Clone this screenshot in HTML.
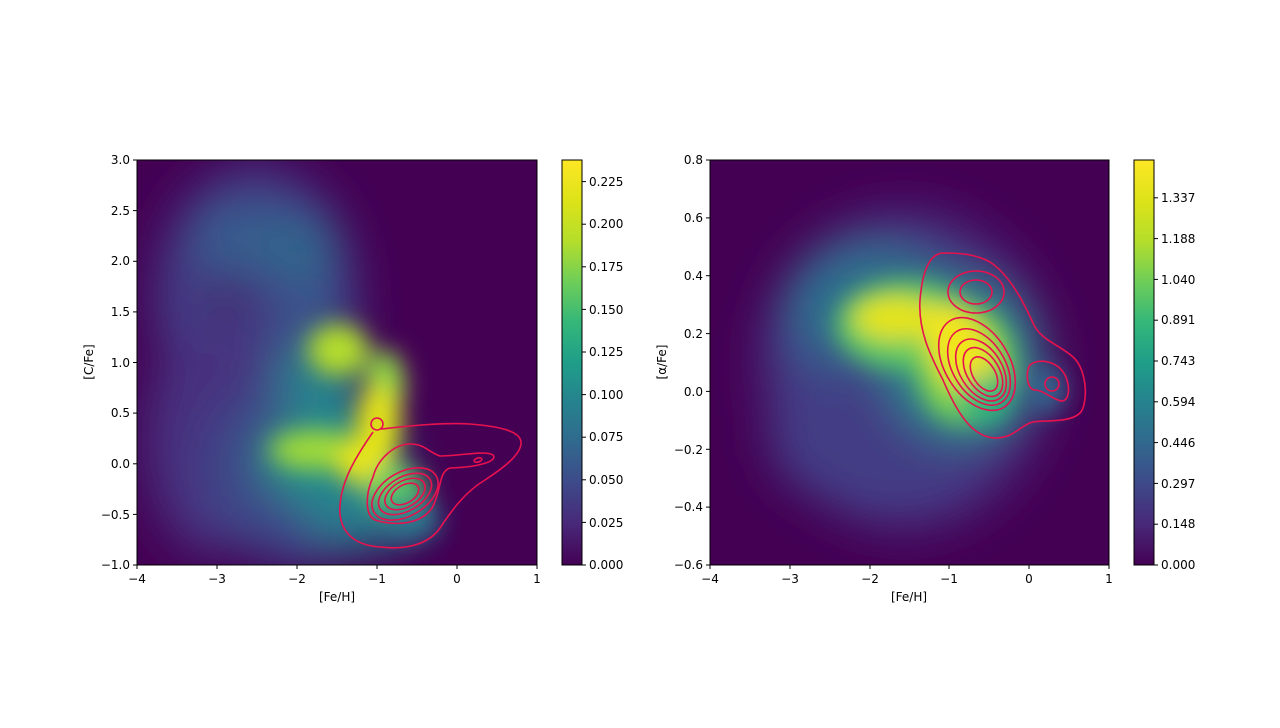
<!DOCTYPE html>
<html><head><meta charset="utf-8"><style>
body{margin:0;background:#fff;}
svg text{font-family:"DejaVu Sans","Liberation Sans",sans-serif;font-size:12px;fill:#000;}
</style></head><body>
<svg width="1280" height="723" viewBox="0 0 1280 723" xmlns="http://www.w3.org/2000/svg">
<defs>
<filter id="b1" x="-50%" y="-50%" width="200%" height="200%"><feGaussianBlur stdDeviation="22"/></filter>
<filter id="b2" x="-50%" y="-50%" width="200%" height="200%"><feGaussianBlur stdDeviation="12"/></filter>
<clipPath id="c1"><rect x="137" y="160" width="400" height="405"/></clipPath>
<clipPath id="c2"><rect x="710" y="160" width="399" height="405"/></clipPath>
<linearGradient id="vir" x1="0" y1="1" x2="0" y2="0">
<stop offset="0" stop-color="#440154"/><stop offset="0.1" stop-color="#482878"/><stop offset="0.2" stop-color="#3e4989"/><stop offset="0.3" stop-color="#31688e"/><stop offset="0.4" stop-color="#26828e"/><stop offset="0.5" stop-color="#1f9e89"/><stop offset="0.6" stop-color="#35b779"/><stop offset="0.7" stop-color="#6ece58"/><stop offset="0.8" stop-color="#b5de2b"/><stop offset="0.9" stop-color="#dde318"/><stop offset="1" stop-color="#fde725"/>
</linearGradient>
</defs>

<!-- LEFT HEATMAP -->
<rect x="137" y="160" width="400" height="405" fill="#440154"/>
<g clip-path="url(#c1)">
<g filter="url(#b1)">
<ellipse cx="255" cy="300" rx="100" ry="135" fill="#433e85"/>
<ellipse cx="210" cy="440" rx="65" ry="115" fill="#46337f"/>
<ellipse cx="300" cy="470" rx="95" ry="95" fill="#3e4989"/>
<ellipse cx="245" cy="240" rx="50" ry="35" fill="#365d8d"/>
<ellipse cx="300" cy="250" rx="40" ry="40" fill="#33638d"/>
<ellipse cx="315" cy="320" rx="40" ry="35" fill="#3b528b"/>
<ellipse cx="320" cy="380" rx="45" ry="35" fill="#26828e"/>
<ellipse cx="330" cy="460" rx="70" ry="45" fill="#21918c"/>
<ellipse cx="360" cy="515" rx="55" ry="35" fill="#277f8e"/>
<ellipse cx="230" cy="300" rx="18" ry="15" fill="#440154"/>
</g>
<g filter="url(#b2)">
<ellipse cx="338" cy="350" rx="30" ry="26" fill="#b5de2b"/>
<ellipse cx="385" cy="385" rx="20" ry="35" fill="#8fd744"/>
<ellipse cx="315" cy="450" rx="45" ry="20" fill="#a0da39"/>
<ellipse cx="378" cy="425" rx="22" ry="40" fill="#e5e419"/>
<ellipse cx="365" cy="462" rx="28" ry="25" fill="#e8e419"/>
<ellipse cx="395" cy="490" rx="30" ry="25" fill="#5ec962"/>
<ellipse cx="410" cy="520" rx="30" ry="20" fill="#2a788e"/>
</g>
</g>
<g fill="none" stroke="#e8114f" stroke-width="1.6" clip-path="url(#c1)">
<circle cx="377" cy="424" r="6"/>
<path d="M381,429 C400,427 440,422 470,424 C495,426 520,430 521,442 C522,455 500,470 485,480 C465,492 452,510 440,528 C428,545 405,550 380,547 C352,545 338,530 340,505 C342,480 355,458 373,432"/>
<path d="M373,477 C378,458 395,444 410,444 C425,444 428,452 440,456 C460,456 485,450 493,455 C498,461 480,467 450,468 C438,472 442,490 432,508 C420,525 395,526 375,520 C365,515 365,495 373,477 Z"/>
<ellipse cx="405" cy="494" rx="36" ry="22" transform="rotate(-30 405 494)"/>
<ellipse cx="405" cy="494" rx="29" ry="17" transform="rotate(-30 405 494)"/>
<ellipse cx="405" cy="494" rx="22" ry="13" transform="rotate(-30 405 494)"/>
<ellipse cx="405" cy="494" rx="15" ry="9" transform="rotate(-30 405 494)"/>
<ellipse cx="478" cy="460" rx="4" ry="2" transform="rotate(-15 478 460)"/>
</g>
<rect x="137" y="160" width="400" height="405" fill="none" stroke="#000" stroke-width="1"/>

<g stroke="#000">
<line x1="137" y1="565" x2="137" y2="569"/><line x1="217" y1="565" x2="217" y2="569"/><line x1="297" y1="565" x2="297" y2="569"/><line x1="377" y1="565" x2="377" y2="569"/><line x1="457" y1="565" x2="457" y2="569"/><line x1="537" y1="565" x2="537" y2="569"/>
<line x1="133" y1="160" x2="137" y2="160"/><line x1="133" y1="210.6" x2="137" y2="210.6"/><line x1="133" y1="261.3" x2="137" y2="261.3"/><line x1="133" y1="311.9" x2="137" y2="311.9"/><line x1="133" y1="362.5" x2="137" y2="362.5"/><line x1="133" y1="413.1" x2="137" y2="413.1"/><line x1="133" y1="463.8" x2="137" y2="463.8"/><line x1="133" y1="514.4" x2="137" y2="514.4"/><line x1="133" y1="565" x2="137" y2="565"/>
</g>
<g text-anchor="middle">
<text x="137" y="583">−4</text><text x="217" y="583">−3</text><text x="297" y="583">−2</text><text x="377" y="583">−1</text><text x="457" y="583">0</text><text x="537" y="583">1</text>
<text x="337" y="601">[Fe/H]</text>
</g>
<g text-anchor="end">
<text x="130" y="164">3.0</text><text x="130" y="215">2.5</text><text x="130" y="265">2.0</text><text x="130" y="316">1.5</text><text x="130" y="367">1.0</text><text x="130" y="417">0.5</text><text x="130" y="468">0.0</text><text x="130" y="519">−0.5</text><text x="130" y="569">−1.0</text>
</g>
<text transform="translate(93 362) rotate(-90)" text-anchor="middle">[C/Fe]</text>

<rect x="562" y="160" width="20" height="405" fill="url(#vir)" stroke="#000" stroke-width="1"/>
<g stroke="#000">
<line x1="582" y1="565" x2="586" y2="565"/><line x1="582" y1="522.4" x2="586" y2="522.4"/><line x1="582" y1="479.8" x2="586" y2="479.8"/><line x1="582" y1="437.2" x2="586" y2="437.2"/><line x1="582" y1="394.6" x2="586" y2="394.6"/><line x1="582" y1="352" x2="586" y2="352"/><line x1="582" y1="309.4" x2="586" y2="309.4"/><line x1="582" y1="266.8" x2="586" y2="266.8"/><line x1="582" y1="224.2" x2="586" y2="224.2"/><line x1="582" y1="181.6" x2="586" y2="181.6"/>
</g>
<g>
<text x="589" y="569">0.000</text><text x="589" y="527">0.025</text><text x="589" y="484">0.050</text><text x="589" y="441">0.075</text><text x="589" y="399">0.100</text><text x="589" y="356">0.125</text><text x="589" y="314">0.150</text><text x="589" y="271">0.175</text><text x="589" y="228">0.200</text><text x="589" y="186">0.225</text>
</g>

<!-- RIGHT HEATMAP -->
<rect x="710" y="160" width="399" height="405" fill="#440154"/>
<g clip-path="url(#c2)">
<g filter="url(#b1)">
<ellipse cx="905" cy="370" rx="145" ry="160" fill="#472f7d"/>
<ellipse cx="880" cy="330" rx="105" ry="95" fill="#3e4a89"/>
<ellipse cx="880" cy="440" rx="110" ry="70" fill="#433e85"/>
<ellipse cx="870" cy="305" rx="80" ry="60" fill="#2e6e8e"/>
<ellipse cx="960" cy="360" rx="75" ry="80" fill="#26828e"/>
</g>
<g filter="url(#b2)">
<ellipse cx="905" cy="325" rx="70" ry="45" fill="#5ec962"/>
<ellipse cx="965" cy="365" rx="50" ry="60" fill="#7ad151"/>
<ellipse cx="895" cy="318" rx="42" ry="22" fill="#e5e419"/>
<ellipse cx="960" cy="350" rx="30" ry="50" fill="#f1e51d" transform="rotate(-25 960 350)"/>
<ellipse cx="985" cy="400" rx="25" ry="25" fill="#35b779"/>
<ellipse cx="1045" cy="390" rx="20" ry="22" fill="#31688e"/>
</g>
</g>
<g fill="none" stroke="#e8114f" stroke-width="1.6" clip-path="url(#c2)">
<path d="M943,253 C960,253 975,254 990,262 C1010,275 1025,305 1033,323 C1040,340 1060,345 1073,357 C1088,370 1088,405 1080,413 C1070,423 1045,420 1033,422 C1020,425 1015,438 995,438 C975,437 960,420 943,380 C930,355 918,330 920,300 C922,275 928,254 943,253 Z"/>
<ellipse cx="976" cy="292" rx="28" ry="21"/>
<ellipse cx="976" cy="292" rx="16" ry="12"/>
<ellipse cx="977" cy="364" rx="51" ry="32" transform="rotate(58 977 364)"/>
<ellipse cx="979" cy="367" rx="42" ry="26" transform="rotate(58 979 367)"/>
<ellipse cx="981" cy="370" rx="34" ry="21" transform="rotate(58 981 370)"/>
<ellipse cx="983" cy="372" rx="27" ry="16" transform="rotate(58 983 372)"/>
<ellipse cx="984" cy="374" rx="19" ry="11" transform="rotate(58 984 374)"/>
<path d="M1030,365 C1040,357 1058,362 1065,375 C1072,390 1068,405 1058,400 C1048,396 1042,390 1035,390 C1027,390 1025,372 1030,365 Z"/>
<circle cx="1052" cy="384" r="7"/>
</g>
<rect x="710" y="160" width="399" height="405" fill="none" stroke="#000" stroke-width="1"/>

<g stroke="#000">
<line x1="710" y1="565" x2="710" y2="569"/><line x1="790" y1="565" x2="790" y2="569"/><line x1="870" y1="565" x2="870" y2="569"/><line x1="949" y1="565" x2="949" y2="569"/><line x1="1029" y1="565" x2="1029" y2="569"/><line x1="1109" y1="565" x2="1109" y2="569"/>
<line x1="706" y1="160" x2="710" y2="160"/><line x1="706" y1="217.9" x2="710" y2="217.9"/><line x1="706" y1="275.7" x2="710" y2="275.7"/><line x1="706" y1="333.6" x2="710" y2="333.6"/><line x1="706" y1="391.4" x2="710" y2="391.4"/><line x1="706" y1="449.3" x2="710" y2="449.3"/><line x1="706" y1="507.1" x2="710" y2="507.1"/><line x1="706" y1="565" x2="710" y2="565"/>
</g>
<g text-anchor="middle">
<text x="710" y="583">−4</text><text x="790" y="583">−3</text><text x="870" y="583">−2</text><text x="949" y="583">−1</text><text x="1029" y="583">0</text><text x="1109" y="583">1</text>
<text x="909" y="601">[Fe/H]</text>
</g>
<g text-anchor="end">
<text x="703" y="164">0.8</text><text x="703" y="222">0.6</text><text x="703" y="280">0.4</text><text x="703" y="338">0.2</text><text x="703" y="396">0.0</text><text x="703" y="454">−0.2</text><text x="703" y="511">−0.4</text><text x="703" y="569">−0.6</text>
</g>
<text transform="translate(666 362) rotate(-90)" text-anchor="middle">[α/Fe]</text>

<rect x="1134" y="160" width="20" height="405" fill="url(#vir)" stroke="#000" stroke-width="1"/>
<g stroke="#000">
<line x1="1154" y1="565" x2="1158" y2="565"/><line x1="1154" y1="524.2" x2="1158" y2="524.2"/><line x1="1154" y1="483.4" x2="1158" y2="483.4"/><line x1="1154" y1="442.6" x2="1158" y2="442.6"/><line x1="1154" y1="401.8" x2="1158" y2="401.8"/><line x1="1154" y1="361" x2="1158" y2="361"/><line x1="1154" y1="320.2" x2="1158" y2="320.2"/><line x1="1154" y1="279.4" x2="1158" y2="279.4"/><line x1="1154" y1="238.6" x2="1158" y2="238.6"/><line x1="1154" y1="197.8" x2="1158" y2="197.8"/>
</g>
<g>
<text x="1161" y="569">0.000</text><text x="1161" y="528">0.148</text><text x="1161" y="488">0.297</text><text x="1161" y="447">0.446</text><text x="1161" y="406">0.594</text><text x="1161" y="365">0.743</text><text x="1161" y="324">0.891</text><text x="1161" y="284">1.040</text><text x="1161" y="243">1.188</text><text x="1161" y="202">1.337</text>
</g>
</svg>
</body></html>
